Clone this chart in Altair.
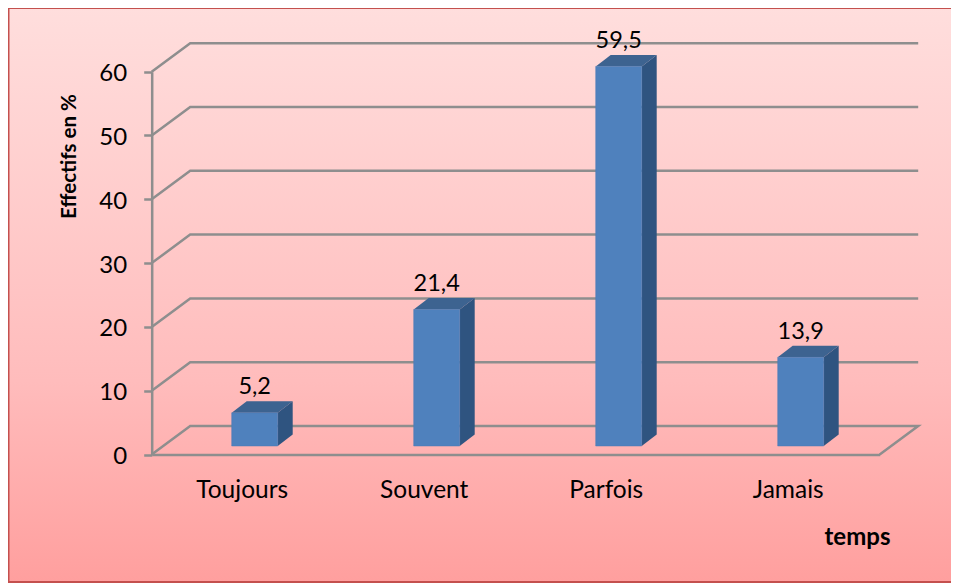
import altair as alt
import pandas as pd

categories = ["Toujours", "Souvent", "Parfois", "Jamais"]
values = [5.2, 21.4, 59.5, 13.9]
value_labels = ["5,2", "21,4", "59,5", "13,9"]
grid_values = [0, 10, 20, 30, 40, 50, 60]

W, H = 943, 575
PX_X = 182.0          # pixels per category
PX_Y = 6.38           # pixels per percentage point
WALL_DX = 38.5 / PX_X
WALL_DY = 28.5 / PX_Y
BASE_DX = 12.0 / PX_X
BASE_DY = 8.5 / PX_Y
BAR_W = 46.0 / PX_X
BAR_DX = 15.0 / PX_X
BAR_DY = 11.5 / PX_Y

xs = alt.Scale(domain=[0, 4], range=[143.7, 143.7 + 4 * PX_X], nice=False, zero=False)
ys = alt.Scale(domain=[0, 60], range=[446.5, 446.5 - 60 * PX_Y], nice=False, zero=False)
FONT = "Lato"
GREY = "#8E8E8E"

x_axis_def = alt.Axis(
    values=[i + 0.5 for i in range(len(categories))],
    labelExpr="['" + "','".join(categories) + "'][floor(datum.value)]",
    offset=-(H - 454.5 + 8), domainColor=GREY, domainWidth=2.5, ticks=False,
    labelFont=FONT, labelFontSize=24.5, labelColor="#000000", labelPadding=24,
    labelOffset=-1,
    labelOverlap=False, grid=False, zindex=1,
    title="temps", titleFont=FONT, titleFontSize=24, titleFontWeight="bold",
    titleColor="#000000", titleX=849, titleY=71, titleAlign="center",
)
y_axis_def = alt.Axis(
    values=grid_values, offset=-143.7, domainColor=GREY, domainWidth=2.5,
    tickColor=GREY, tickWidth=2.5, tickSize=8, labelFont=FONT, labelFontSize=24,
    labelColor="#000000", labelPadding=17, labelOffset=2, grid=False, zindex=1,
    title="Effectifs en %", titleFont=FONT, titleFontSize=20.5, titleFontWeight="bold",
    titleColor="#000000", titleX=-72, titleY=148, titleAngle=270, titleAlign="center",
)

X = lambda f: alt.X(f, type="quantitative", scale=xs, axis=x_axis_def)
Y = lambda f: alt.Y(f, type="quantitative", scale=ys, axis=y_axis_def)

# background
bg = alt.Chart(pd.DataFrame({"a": [0]})).mark_rect(
    color=alt.LinearGradient(
        gradient="linear", x1=0, y1=0, x2=0, y2=1,
        stops=[
            alt.GradientStop(offset=0, color="#FFDEDD"),
            alt.GradientStop(offset=0.65, color="#FFBCBC"),
            alt.GradientStop(offset=1, color="#FF9F9E"),
        ],
    ),
    stroke="#C4504E", strokeWidth=2,
).encode(x=alt.value(0.5), x2=alt.value(W + 4), y=alt.value(0), y2=alt.value(H - 1))

# walls and floor
wall = []
for v in grid_values:
    pts = [(0, v), (WALL_DX, v + WALL_DY), (4 + WALL_DX, v + WALL_DY)]
    if v == 0:
        pts.append((4, 0))
    for i, (a, b) in enumerate(pts):
        wall.append({"g": v, "o": i, "x": a, "y": b})
grid = alt.Chart(pd.DataFrame(wall)).mark_line(color=GREY, strokeWidth=2.5, strokeJoin="miter").encode(
    x=X("x"), y=Y("y"), detail="g:N", order="o:Q")

# bars
front, side, top, text = [], [], [], []
for i, (c, v, lab) in enumerate(zip(categories, values, value_labels)):
    x0 = i + 0.5 + BASE_DX - BAR_W / 2
    x1 = x0 + BAR_W
    t = v + BASE_DY
    front.append({"c": c, "xa": x0, "xb": x1, "ya": BASE_DY, "yb": t})
    side += [
        {"c": c, "o": 0, "xa": x1, "ya": BASE_DY, "yb": t},
        {"c": c, "o": 1, "xa": x1 + BAR_DX, "ya": BASE_DY + BAR_DY, "yb": t + BAR_DY},
    ]
    top += [
        {"c": c, "o": 0, "ya": t, "xa": x0, "xb": x1},
        {"c": c, "o": 1, "ya": t + BAR_DY, "xa": x0 + BAR_DX, "xb": x1 + BAR_DX},
    ]
    text.append({"c": c, "lab": lab, "xa": (x0 + x1) / 2, "ya": t + BAR_DY})

front_m = alt.Chart(pd.DataFrame(front)).mark_rect(color="#4F81BD", stroke="#4A7AB4", strokeWidth=0.5).encode(
    x=X("xa"), x2="xb", y=Y("ya"), y2="yb")
side_m = alt.Chart(pd.DataFrame(side)).mark_area(color="#2F5480", orient="vertical").encode(
    x=X("xa"), y=Y("ya"), y2="yb", detail="c:N")
top_m = alt.Chart(pd.DataFrame(top)).mark_area(color="#3D6390", orient="horizontal").encode(
    y=Y("ya"), x=X("xa"), x2="xb", detail="c:N")
text_m = alt.Chart(pd.DataFrame(text)).mark_text(
    font=FONT, fontSize=23.5, color="#000000", baseline="bottom", dy=-2).encode(
    x=X("xa"), y=Y("ya"), text="lab:N")

chart = alt.layer(bg, grid, side_m, top_m, front_m, text_m).properties(
    width=W, height=H, padding=0, autosize=alt.AutoSizeParams(type="none"),
    background="#FFFFFF",
).configure_view(stroke=None)

chart.save("out.html", embed_options={"renderer": "svg", "actions": False})
